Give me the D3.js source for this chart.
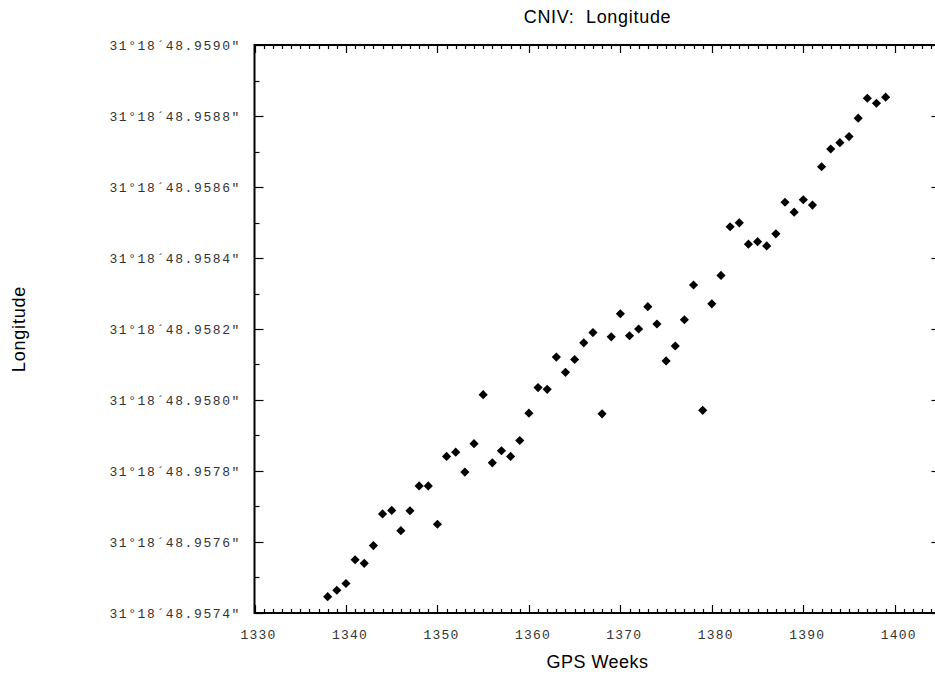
<!DOCTYPE html>
<html>
<head>
<meta charset="utf-8">
<script src="https://cdn.jsdelivr.net/npm/d3@7"></script>
<style>
  html, body { margin: 0; padding: 0; background: #fff; }
  svg { display: block; }
  .tick-label { font-family: "Liberation Mono", "DejaVu Sans Mono", monospace; font-size: 13px; fill: #333; }
  .title, .axis-title { font-family: "Liberation Sans", Arial, sans-serif; fill: #000; }
</style>
</head>
<body>
<svg id="chart" width="935" height="675"></svg>
<script>
// Station CNIV: weekly longitude solutions (seconds part of 31°18′)
const weeks = [
  1338, 1339, 1340, 1341, 1342, 1343, 1344, 1345, 1346, 1347,
  1348, 1349, 1350, 1351, 1352, 1353, 1354, 1355, 1356, 1357,
  1358, 1359, 1360, 1361, 1362, 1363, 1364, 1365, 1366, 1367,
  1368, 1369, 1370, 1371, 1372, 1373, 1374, 1375, 1376, 1377,
  1378, 1379, 1380, 1381, 1382, 1383, 1384, 1385, 1386, 1387,
  1388, 1389, 1390, 1391, 1392, 1393, 1394, 1395, 1396, 1397,
  1398, 1399
];
const longitudeSeconds = [
  48.957446, 48.957464, 48.957483, 48.957550, 48.957540, 48.957590, 48.957679, 48.957689, 48.957632, 48.957688,
  48.957758, 48.957758, 48.957650, 48.957841, 48.957853, 48.957797, 48.957877, 48.958015, 48.957823, 48.957857,
  48.957841, 48.957886, 48.957963, 48.958035, 48.958030, 48.958121, 48.958078, 48.958114, 48.958161, 48.958190,
  48.957961, 48.958178, 48.958243, 48.958181, 48.958200, 48.958263, 48.958214, 48.958110, 48.958152, 48.958226,
  48.958324, 48.957971, 48.958271, 48.958351, 48.958488, 48.958499, 48.958439, 48.958446, 48.958434, 48.958468,
  48.958557, 48.958529, 48.958564, 48.958549, 48.958657, 48.958707, 48.958725, 48.958742, 48.958794, 48.958850,
  48.958836, 48.958853
];
const xTickValues = [1330, 1340, 1350, 1360, 1370, 1380, 1390, 1400];
const yTickValues = [48.9574, 48.9576, 48.9578, 48.9580, 48.9582, 48.9584, 48.9586, 48.9588, 48.9590];
const titleText = "CNIV:  Longitude";
const xTitle = "GPS Weeks";
const yTitle = "Longitude";

const svg = d3.select("#chart");
const plot = { left: 254.5, right: 940.5, top: 45, bottom: 613 };

const x = d3.scaleLinear().domain([1330, 1405]).range([plot.left, plot.right]);
const y = d3.scaleLinear().domain([48.9574, 48.9590]).range([plot.bottom, plot.top]);

const fmtY = v => "31°18´" + v.toFixed(4) + "″";

const xMinor = d3.range(1330, 1406, 1).filter(v => v % 10 !== 0);
const yMinor = d3.range(0, 8).map(i => 48.9575 + i * 0.0002);

// Frame
svg.append("rect")
  .attr("x", plot.left).attr("y", plot.top)
  .attr("width", plot.right - plot.left).attr("height", plot.bottom - plot.top)
  .attr("fill", "none").attr("stroke", "#000").attr("stroke-width", 2);

// Inward tick marks on all four sides
const ticks = svg.append("g").attr("stroke", "#000").attr("stroke-width", 1.2);
function hTicks(vals, len) {
  vals.forEach(v => {
    const px = Math.round(x(v)) + 0.5;
    ticks.append("line").attr("x1", px).attr("x2", px).attr("y1", plot.bottom).attr("y2", plot.bottom - len);
    ticks.append("line").attr("x1", px).attr("x2", px).attr("y1", plot.top).attr("y2", plot.top + len);
  });
}
function vTicks(vals, len) {
  vals.forEach(v => {
    const py = Math.round(y(v)) + 0.5;
    ticks.append("line").attr("y1", py).attr("y2", py).attr("x1", plot.left).attr("x2", plot.left + len);
    ticks.append("line").attr("y1", py).attr("y2", py).attr("x1", plot.right).attr("x2", plot.right - len);
  });
}
hTicks(xMinor, 4);
hTicks(xTickValues, 8);
vTicks(yMinor, 5);
vTicks(yTickValues, 9);

// Tick labels
svg.append("g").selectAll("text").data(xTickValues).join("text")
  .attr("class", "tick-label")
  .attr("x", d => x(d) + 4).attr("y", 639)
  .attr("text-anchor", "middle")
  .attr("letter-spacing", 1.2)
  .text(d => d);

svg.append("g").selectAll("text").data(yTickValues).join("text")
  .attr("class", "tick-label")
  .attr("x", 241).attr("y", d => y(d) + 4.5)
  .attr("text-anchor", "end")
  .attr("letter-spacing", 1.6)
  .text(d => fmtY(d));

// Points
svg.append("g").selectAll("path").data(weeks).join("path")
  .attr("d", d3.symbol(d3.symbolSquare, 42))
  .attr("transform", (d, i) => `translate(${x(d)},${y(longitudeSeconds[i])}) rotate(45)`)
  .attr("fill", "#000");

// Titles
svg.append("text").attr("class", "title")
  .attr("x", (plot.left + plot.right) / 2).attr("y", 23)
  .attr("text-anchor", "middle").attr("font-size", 18)
  .attr("letter-spacing", 0.7)
  .style("white-space", "pre")
  .text(titleText);

svg.append("text").attr("class", "axis-title")
  .attr("x", (plot.left + plot.right) / 2).attr("y", 668)
  .attr("text-anchor", "middle").attr("font-size", 18)
  .attr("letter-spacing", 0.5)
  .text(xTitle);

svg.append("text").attr("class", "axis-title")
  .attr("transform", `translate(25,${(plot.top + plot.bottom) / 2}) rotate(-90)`)
  .attr("text-anchor", "middle").attr("font-size", 18)
  .attr("letter-spacing", 0.8)
  .text(yTitle);
</script>
</body>
</html>
